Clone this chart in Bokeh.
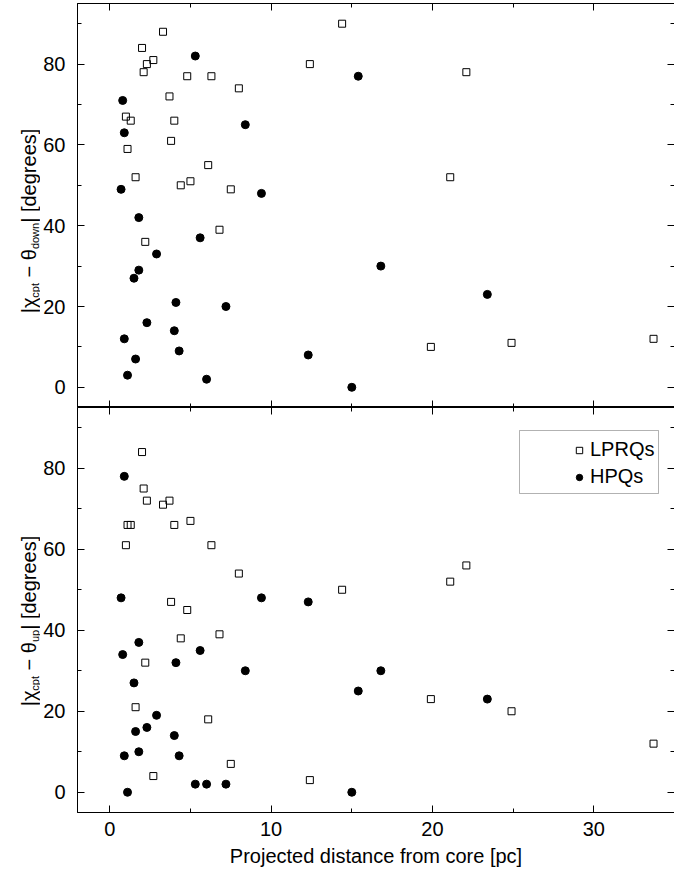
import math
from bokeh.plotting import figure
from bokeh.layouts import column, row
from bokeh.models import (Range1d, LinearAxis, Label, Legend, LegendItem,
                          BoxAnnotation, FixedTicker)
from bokeh.embed import file_html
from bokeh.resources import INLINE

# ---------------- data ----------------
# top panel: |chi_cpt - theta_down|
lprq_x_down = [1.0, 1.1, 1.3, 1.6, 2.0, 2.1, 2.2, 2.3, 2.7, 3.3, 3.7, 3.8, 4.0, 4.4,
               4.8, 5.0, 6.1, 6.3, 6.8, 7.5, 8.0, 12.4, 14.4, 19.9, 21.1, 22.1, 24.9, 33.7]
lprq_y_down = [67, 59, 66, 52, 84, 78, 36, 80, 81, 88, 72, 61, 66, 50,
               77, 51, 55, 77, 39, 49, 74, 80, 90, 10, 52, 78, 11, 12]
hpq_x_down = [0.7, 0.8, 0.9, 0.9, 1.1, 1.5, 1.6, 1.8, 1.8, 2.3, 2.9, 4.0, 4.1,
              4.3, 5.3, 5.6, 6.0, 7.2, 8.4, 9.4, 12.3, 15.0, 15.4, 16.8, 23.4]
hpq_y_down = [49, 71, 63, 12, 3, 27, 7, 42, 29, 16, 33, 14, 21,
              9, 82, 37, 2, 20, 65, 48, 8, 0, 77, 30, 23]

# bottom panel: |chi_cpt - theta_up|
lprq_x_up = [1.0, 1.1, 1.3, 1.6, 2.0, 2.1, 2.2, 2.3, 2.7, 3.3, 3.7, 3.8, 4.0, 4.4,
             4.8, 5.0, 6.1, 6.3, 6.8, 7.5, 8.0, 12.4, 14.4, 19.9, 21.1, 22.1, 24.9, 33.7]
lprq_y_up = [61, 66, 66, 21, 84, 75, 32, 72, 4, 71, 72, 47, 66, 38,
             45, 67, 18, 61, 39, 7, 54, 3, 50, 23, 52, 56, 20, 12]
hpq_x_up = [0.7, 0.8, 0.9, 0.9, 1.1, 1.5, 1.6, 1.8, 1.8, 2.3, 2.9, 4.0, 4.1,
            4.3, 5.3, 5.6, 6.0, 7.2, 8.4, 9.4, 12.3, 15.0, 15.4, 16.8, 23.4]
hpq_y_up = [48, 34, 78, 9, 0, 27, 15, 37, 10, 16, 19, 14, 32,
            9, 2, 35, 2, 2, 30, 48, 47, 0, 25, 30, 23]

x_ticks = [0, 10, 20, 30]
x_minor_ticks = [5, 15, 25, 35]
y_ticks = [0, 20, 40, 60, 80]
y_minor_ticks = [10, 30, 50, 70, 90]
x_title = "Projected distance from core [pc]"
legend_labels = ["LPRQs", "HPQs"]
top_title = [("|χ", "main"), ("cpt", "sub"), (" − θ", "main"), ("down", "sub"), ("| [degrees]", "main")]
bottom_title = [("|χ", "main"), ("cpt", "sub"), (" − θ", "main"), ("up", "sub"), ("| [degrees]", "main")]

# ---------------- style ----------------
FONT = "Liberation Sans"
MAIN = 20
SUB = 11
FRAME_W = 597
LAB_W = 40
TOTAL_H = 874
BOTTOM_BORDER = 62
CHAR_W = {'|': 0.26, 'χ': 0.52, 'θ': 0.556, ' ': 0.278, '−': 0.584, '[': 0.278, ']': 0.278,
          'd': 0.556, 'e': 0.556, 'g': 0.556, 'r': 0.333, 's': 0.5, 'c': 0.5, 'p': 0.556,
          't': 0.278, 'o': 0.556, 'w': 0.722, 'n': 0.556, 'u': 0.556}

xr = Range1d(-2, 35)


def style_axis(ax, ticks, minor, labels):
    ax.ticker = FixedTicker(ticks=ticks, minor_ticks=minor)
    ax.major_tick_in = 7
    ax.major_tick_out = 0
    ax.minor_tick_in = 4
    ax.minor_tick_out = 0
    ax.axis_line_color = "black"
    ax.major_tick_line_color = "black"
    ax.minor_tick_line_color = "black"
    ax.axis_line_width = 1
    if labels:
        ax.major_label_text_font = FONT
        ax.major_label_text_font_size = f"{MAIN}px"
        ax.major_label_text_color = "black"
    else:
        ax.major_label_text_font_size = "0px"
        ax.major_label_standoff = 0
        ax.major_label_text_color = None


def text_w(txt, fs):
    return sum(CHAR_W.get(c, 0.55) for c in txt) * fs


def add_title(q, parts, center):
    total = sum(text_w(txt, MAIN if kind == "main" else SUB) for txt, kind in parts)
    y = center - total / 2
    for txt, kind in parts:
        fs = MAIN if kind == "main" else SUB
        lead = len(txt) - len(txt.lstrip(" "))
        y += text_w(" " * lead, fs)          # SVG drops leading blanks: advance instead
        body = txt.lstrip(" ")
        xb = 28 if kind == "main" else 34
        q.add_layout(Label(x=xb, y=y, x_units="screen", y_units="screen", text=body,
                           angle=math.pi / 2, text_align="left", text_baseline="alphabetic",
                           text_font=FONT, text_font_size=f"{fs}px", text_color="black"))
        y += text_w(body, fs)


def make_panel(lx, ly, hx, hy, frame_h, top_border, bottom_border, bottom_labels):
    p = figure(frame_width=FRAME_W, frame_height=frame_h, x_range=xr, y_range=Range1d(-5, 95),
               output_backend="svg", toolbar_location=None,
               min_border_left=76 - LAB_W, min_border_right=1, min_border_top=top_border,
               min_border_bottom=bottom_border)
    p.xgrid.visible = False
    p.ygrid.visible = False
    p.outline_line_color = "black"
    p.outline_line_width = 1
    bottom_ax = p.xaxis[0]
    style_axis(bottom_ax, x_ticks, x_minor_ticks, bottom_labels)
    style_axis(p.yaxis[0], y_ticks, y_minor_ticks, True)
    p.yaxis[0].major_label_standoff = 12
    top = LinearAxis()
    style_axis(top, x_ticks, x_minor_ticks, False)
    p.add_layout(top, "above")
    right = LinearAxis()
    style_axis(right, y_ticks, y_minor_ticks, False)
    p.add_layout(right, "right")
    sq = p.scatter(lx, ly, marker="square", size=7, fill_color=None,
                   line_color="black", line_width=1)
    ci = p.scatter(hx, hy, marker="circle", size=8, fill_color="black",
                   line_color="black")
    return p, bottom_ax, sq, ci


p1, _, _, _ = make_panel(lprq_x_down, lprq_y_down, hpq_x_down, hpq_y_down, 404, 3, 0, False)

p2, ax2, sq2, ci2 = make_panel(lprq_x_up, lprq_y_up, hpq_x_up, hpq_y_up, 405, 0,
                               BOTTOM_BORDER, True)
ax2.major_label_standoff = 9
ax2.axis_label = x_title
ax2.axis_label_text_font = FONT
ax2.axis_label_text_font_size = f"{MAIN}px"
ax2.axis_label_text_font_style = "normal"
ax2.axis_label_text_color = "black"
ax2.axis_label_standoff = 6

# title strip on the left, spanning both panels
t = figure(width=LAB_W, height=TOTAL_H, x_range=Range1d(0, 1), y_range=Range1d(0, 1),
           output_backend="svg", toolbar_location=None,
           x_axis_location=None, y_axis_location=None, min_border=0)
t.outline_line_color = None
t.xgrid.visible = False
t.ygrid.visible = False
add_title(t, top_title, TOTAL_H - 220.5)
add_title(t, bottom_title, TOTAL_H - 620.5)

legend = Legend(items=[LegendItem(label=legend_labels[0], renderers=[sq2]),
                       LegendItem(label=legend_labels[1], renderers=[ci2])],
                location=(494, 324), padding=5, spacing=4, glyph_width=16, glyph_height=16,
                label_standoff=3, label_text_font=FONT, label_text_font_size=f"{MAIN}px",
                label_text_color="black",
                border_line_color=None, background_fill_alpha=0, margin=0)
p2.add_layout(legend)
p2.add_layout(BoxAnnotation(left=442, right=581, top=382, bottom=319,
                            left_units="screen", right_units="screen",
                            top_units="screen", bottom_units="screen",
                            fill_alpha=0, fill_color=None, line_color="black", line_width=1))

layout = row(t, column(p1, p2, spacing=0), spacing=0)
open("out.html", "w").write(file_html(layout, INLINE))
